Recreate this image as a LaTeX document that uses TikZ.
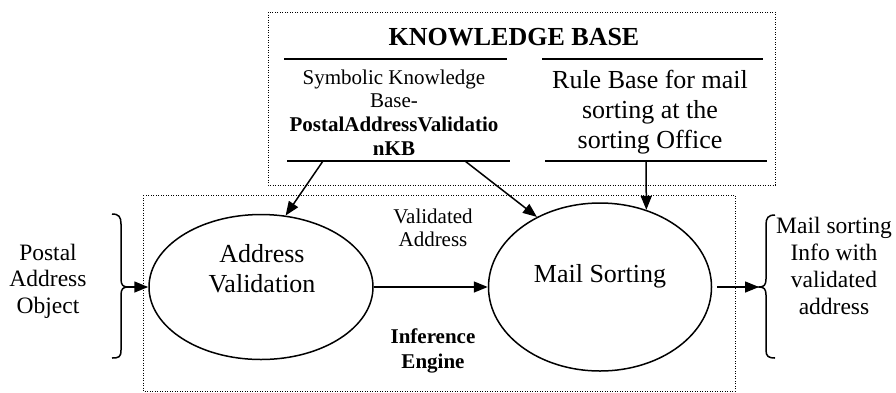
\documentclass[tikz,border=0pt]{standalone}
\usepackage{fontspec}
\setmainfont{Liberation Serif}
\usetikzlibrary{arrows.meta,shapes.geometric}

\newcommand\stacklines[1]{\begin{tabular}[t]{@{}c@{}}#1\end{tabular}}

\tikzset{
  px/.style={x=1pt,y=-1pt},
  dotbox/.style={draw,line width=0.9pt,dash pattern=on 0.9pt off 1.6pt},
  rulebar/.style={draw,line width=1.6pt},
  oval/.style={draw,ellipse,line width=1.5pt,inner sep=0pt},
  arr/.style={line width=1.5pt,-{Triangle[length=14pt,width=11pt]}},
  brace/.style={line width=1.5pt},
  txt/.style={anchor=base,inner sep=0pt},
  fbig/.style={font=\fontsize{26}{30}\selectfont},
  fmid/.style={font=\fontsize{23.5}{26.5}\selectfont},
  fsmall/.style={font=\fontsize{21}{23.7}\selectfont},
}

\begin{document}
\begin{tikzpicture}[px]
\useasboundingbox (0,0) rectangle (896,392);

% dotted frames
\draw[dotbox] (268,12) rectangle (775,185);
\draw[dotbox] (143,195) rectangle (735,391);

% knowledge base contents
\node[txt,fbig,font=\fontsize{26}{30}\selectfont\bfseries] (kbtitle) at (514,45) {KNOWLEDGE BASE};
\draw[rulebar] (284,59) -- (507,59);
\draw[rulebar] (542,59) -- (763,59);
\node[txt,fsmall] (symkb) at (394,84)
  {\stacklines{Symbolic Knowledge\\Base-\\\textbf{PostalAddressValidatio}\\\textbf{nKB}}};
\node[txt,fbig] (rulekb) at (650,88)
  {\stacklines{Rule Base for mail\\sorting at the\\sorting Office}};
\draw[rulebar] (287,161) coordinate (symL) -- (510,161) coordinate (symR);
\draw[rulebar] (545,161) coordinate (ruleL) -- (767,161) coordinate (ruleR);
\coordinate (symA) at (323,161);
\coordinate (symB) at (465,161);
\coordinate (ruleA) at (646,161);

% inference engine
\node[oval,minimum width=224pt,minimum height=145pt] (av) at (261,287) {};
\node[oval,minimum width=223pt,minimum height=168pt] (ms) at (600,287) {};
\node[txt,fbig] (avtext) at (262,262) {\stacklines{Address\\Validation}};
\node[txt,fbig] (mstext) at (600,282) {Mail Sorting};
\node[txt,fsmall] (valaddr) at (433,223) {\stacklines{Validated\\Address}};
\node[txt,fsmall,font=\fontsize{21}{25}\selectfont\bfseries] (engine) at (433,343)
  {\stacklines{Inference\\Engine}};

% input and output
\node[txt,fmid] (input) at (48,260) {\stacklines{Postal\\Address\\Object}};
\node[txt,fmid,font=\fontsize{23.5}{27}\selectfont] (output) at (834,233)
  {\stacklines{Mail sorting\\Info with\\validated\\address}};

% braces
\draw[brace] (112,214) .. controls (119,214) and (121,217) .. (121,224)
  -- (121,279) .. controls (121,285) and (123,287) .. (128,287) coordinate (inTip)
  .. controls (123,287) and (121,289) .. (121,295)
  -- (121,350) .. controls (121,357) and (119,358) .. (112,358);
\draw[brace] (775,215) .. controls (768,215) and (766,218) .. (766,225)
  -- (766,279) .. controls (766,285) and (764,287) .. (759,287) coordinate (outTip)
  .. controls (764,287) and (766,289) .. (766,295)
  -- (766,350) .. controls (766,356) and (768,358) .. (775,358);

% connectors
\draw[arr] (symA) -- (av.71);
\draw[arr] (symB) -- (ms.132);
\draw[arr] (ruleA) -- (ms.59);
\draw[arr] (inTip) -- (av.west);
\draw[arr] (av.east) -- (ms.west);
\draw[arr,shorten <=5pt] (ms.east) -- (outTip);
\end{tikzpicture}
\end{document}
